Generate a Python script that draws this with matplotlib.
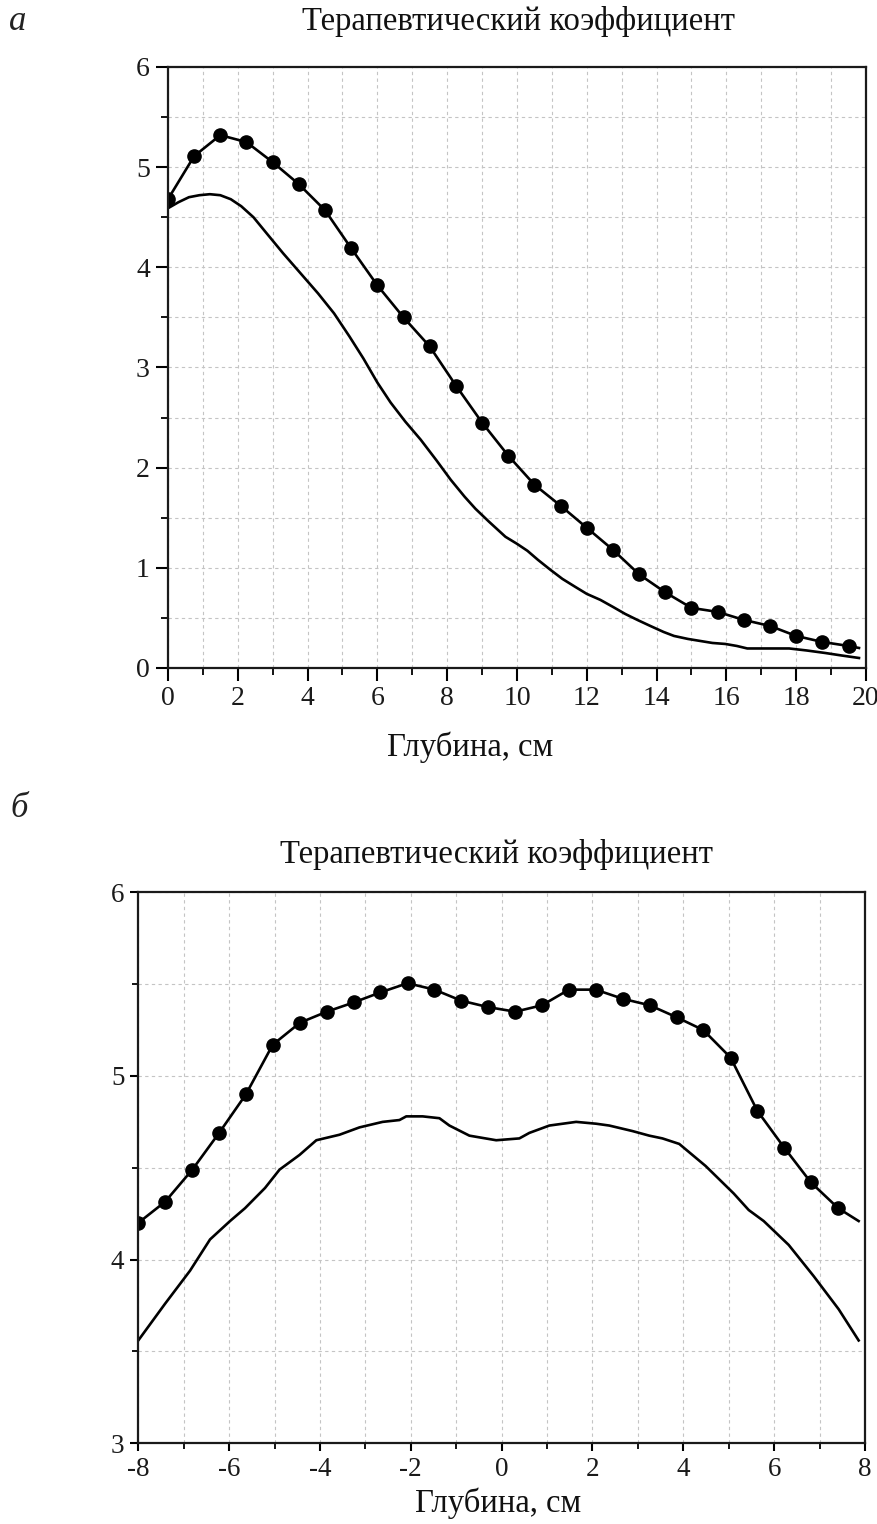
import matplotlib
matplotlib.use("Agg")
import matplotlib.pyplot as plt
from matplotlib.ticker import MultipleLocator
import numpy as np

plt.rcParams['font.family'] = ['Liberation Serif', 'DejaVu Serif']
plt.rcParams['axes.unicode_minus'] = False

# --- Panel а: therapeutic ratio vs depth ---
a_mark_x = [0.0, 0.75, 1.5, 2.25, 3.0, 3.75, 4.5, 5.25, 6.0, 6.75, 7.5, 8.25, 9.0,
            9.75, 10.5, 11.25, 12.0, 12.75, 13.5, 14.25, 15.0, 15.75, 16.5, 17.25,
            18.0, 18.75, 19.5, 19.8]
a_mark_y = [4.68, 5.11, 5.32, 5.25, 5.05, 4.83, 4.57, 4.19, 3.82, 3.50, 3.21, 2.82, 2.45,
            2.12, 1.83, 1.62, 1.40, 1.18, 0.935, 0.755, 0.60, 0.56, 0.48, 0.42,
            0.32, 0.26, 0.22, 0.20]

a_line_x = [0.0, 0.3, 0.6, 0.9, 1.2, 1.5, 1.8, 2.1, 2.45, 2.85, 3.3, 3.8, 4.3, 4.76, 5.2,
            5.6, 6.0, 6.38, 6.8, 7.24, 7.7, 8.1, 8.5, 8.81, 9.2, 9.67, 10.0, 10.3, 10.6,
            10.96, 11.3, 11.67, 12.0, 12.39, 12.75, 13.1, 13.45, 13.82, 14.2, 14.5, 14.9,
            15.25, 15.6, 15.97, 16.3, 16.6, 17.2, 17.8, 18.3, 18.83, 19.3, 19.8]
a_line_y = [4.59, 4.65, 4.70, 4.72, 4.73, 4.72, 4.68, 4.61, 4.50, 4.33, 4.14, 3.94, 3.74,
            3.54, 3.31, 3.09, 2.85, 2.65, 2.46, 2.28, 2.07, 1.88, 1.71, 1.59, 1.46, 1.31,
            1.24, 1.17, 1.08, 0.98, 0.89, 0.81, 0.74, 0.68, 0.61, 0.54, 0.48, 0.42, 0.36,
            0.32, 0.29, 0.27, 0.25, 0.24, 0.22, 0.195, 0.195, 0.195, 0.175, 0.15, 0.125,
            0.10]

# --- Panel б: therapeutic ratio across the field ---
b_mark_x = [-8.00, -7.41, -6.81, -6.22, -5.63, -5.04, -4.44, -3.85, -3.26, -2.67, -2.07,
            -1.48, -0.89, -0.30, 0.30, 0.89, 1.48, 2.07, 2.67, 3.26, 3.85, 4.44, 5.04,
            5.63, 6.22, 6.81, 7.41, 7.86]
b_mark_y = [4.20, 4.315, 4.49, 4.69, 4.90, 5.17, 5.29, 5.35, 5.40, 5.455, 5.505,
            5.47, 5.41, 5.375, 5.35, 5.385, 5.47, 5.47, 5.42, 5.385, 5.32, 5.25, 5.10,
            4.81, 4.61, 4.42, 4.28, 4.21]

b_line_x = [-8.0, -7.41, -6.86, -6.42, -5.98, -5.65, -5.21, -4.89, -4.45, -4.08, -3.57,
            -3.13, -2.62, -2.25, -2.10, -1.74, -1.37, -1.15, -0.71, -0.12, 0.39, 0.61,
            1.05, 1.64, 2.08, 2.37, 2.88, 3.25, 3.54, 3.91, 4.20, 4.49, 5.11, 5.44,
            5.77, 6.32, 6.87, 7.42, 7.86]
b_line_y = [3.56, 3.76, 3.94, 4.11, 4.21, 4.28, 4.39, 4.49, 4.57, 4.65, 4.68,
            4.72, 4.75, 4.76, 4.78, 4.78, 4.77, 4.73, 4.675, 4.65, 4.66, 4.69,
            4.73, 4.75, 4.74, 4.73, 4.70, 4.675, 4.66, 4.63, 4.57, 4.51, 4.36, 4.27,
            4.21, 4.08, 3.91, 3.73, 3.56]

title_text = "Терапевтический коэффициент"
xlabel_text = "Глубина, см"

fig = plt.figure(figsize=(8.78, 15.24), dpi=100)
fig.patch.set_facecolor("white")

ax1 = fig.add_axes([0.1913, 0.56168, 0.9863 - 0.1913, 0.95604 - 0.56168])
ax2 = fig.add_axes([0.1575, 0.05296, 0.9852 - 0.1575, 0.41450 - 0.05296])

grid_kw = dict(color="#c4c4c4", linestyle=(0, (3, 3)), linewidth=0.8)
line_kw = dict(color="black", linewidth=1.9)


def style_axes(ax, xlim, ylim, xmaj, ymaj, tick_fs, major_len, minor_len):
    ax.set_xlim(*xlim)
    ax.set_ylim(*ylim)
    ax.xaxis.set_major_locator(MultipleLocator(xmaj))
    ax.xaxis.set_minor_locator(MultipleLocator(1))
    ax.yaxis.set_major_locator(MultipleLocator(ymaj))
    ax.yaxis.set_minor_locator(MultipleLocator(0.5))
    ax.grid(True, which="both", **grid_kw)
    ax.set_axisbelow(True)
    for sp in ax.spines.values():
        sp.set_linewidth(1.6)
        sp.set_color("#1a1a1a")
    ax.tick_params(which="major", direction="out", length=major_len, width=1.5,
                   labelsize=tick_fs, pad=4, top=False, right=False)
    ax.tick_params(which="minor", direction="out", length=minor_len, width=1.3,
                   top=False, right=False)
    for lab in ax.get_xticklabels() + ax.get_yticklabels():
        lab.set_color("#1a1a1a")


# Panel а
ax1.plot(a_line_x, a_line_y, **line_kw)
ax1.plot(a_mark_x, a_mark_y, marker="o", markersize=9.5, markevery=list(range(len(a_mark_x) - 1)),
         **line_kw)
style_axes(ax1, (0, 20), (0, 6), 2, 1, 20, 9, 5)

# Panel б
ax2.plot(b_line_x, b_line_y, **line_kw)
ax2.plot(b_mark_x, b_mark_y, marker="o", markersize=9.5, markevery=list(range(len(b_mark_x) - 1)),
         **line_kw)
style_axes(ax2, (-8, 8), (3, 6), 2, 1, 19.5, 6, 4)
ax2.set_yticks([3, 4, 5, 6])

# Panel letters, titles and axis labels
fig.text(0.0205, 0.9856, "а", fontsize=25, style="italic", ha="center", va="center", color="#222222")
fig.text(0.0216, 0.4698, "б", fontsize=25, style="italic", ha="center", va="center", color="#222222")
fig.text(0.590, 0.9862, title_text, fontsize=23.5, ha="center", va="center", color="#111111")
fig.text(0.566, 0.4390, title_text, fontsize=23.5, ha="center", va="center", color="#111111")
fig.text(0.5353, 0.5098, xlabel_text, fontsize=23.5, ha="center", va="center", color="#111111")
fig.text(0.567, 0.0138, xlabel_text, fontsize=23.5, ha="center", va="center", color="#111111")

fig.savefig("out.png", dpi=100, facecolor="white")
